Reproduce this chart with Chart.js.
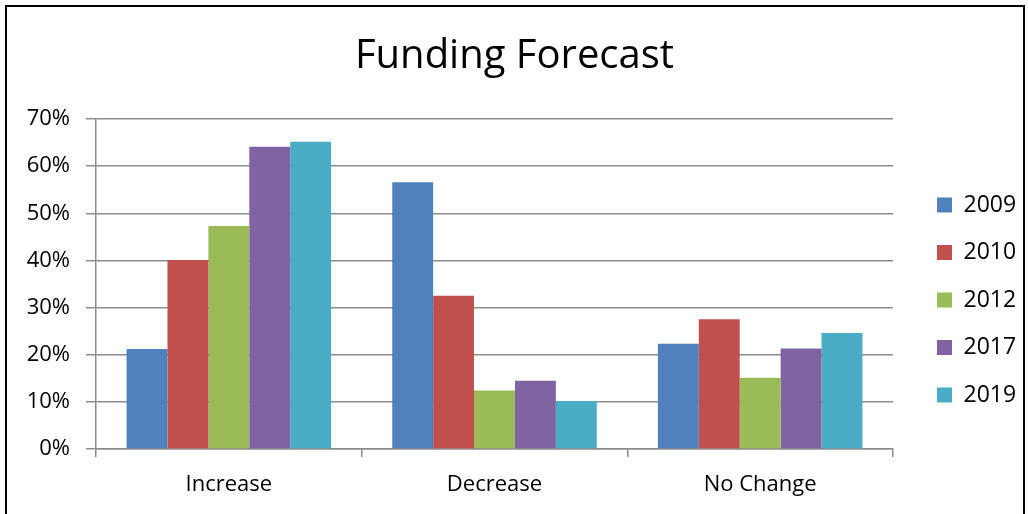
<!DOCTYPE html>
<html>
<head>
  <title>Funding Forecast</title>
  <script src="https://cdn.jsdelivr.net/npm/chart.js"></script>
  <style>
    body { margin: 0; background: #fff; }
    #frame { position: absolute; left: 5px; top: 5px; width: 1016px; height: 520px; border: 2px solid #000; }
    #chart { position: absolute; left: 0; top: 0; }
  </style>
</head>
<body>
  <div id="frame"></div>
  <canvas id="chart" width="1029" height="514"></canvas>

  <script>
    // values (percent)
    var categories = ['Increase', 'Decrease', 'No Change'];
    var years = ['2009', '2010', '2012', '2017', '2019'];
    var v2009 = [21.2, 56.6, 22.3];
    var v2010 = [40.1, 32.5, 27.5];
    var v2012 = [47.3, 12.4, 15.1];
    var v2017 = [64.1, 14.5, 21.3];
    var v2019 = [65.2, 10.2, 24.6];
    var colors = ['#4F81BD', '#C0504D', '#9BBB59', '#8064A2', '#4BACC6'];

    var series = [v2009, v2010, v2012, v2017, v2019];
    var font = "'Open Sans', 'Noto Sans', sans-serif";
    var gridColor = '#8c8c8c';
    var legendPad = 24.5;

    // fixed legend width so the plot ends where the reference does,
    // then nudge the legend items into place
    var legendPlace = {
      id: 'legendPlace',
      afterInit: function (chart) {
        var lg = chart.legend;
        var fit = lg.fit;
        lg.fit = function () {
          fit.call(this);
          this.width = 136;
        };
      },
      afterLayout: function (chart) {
        var lg = chart.legend;
        var w = lg.width, h = lg.height;
        lg.left = 937 - legendPad;
        lg.right = lg.left + w;
        lg.top = 205 - 11.5 - legendPad;
        lg.bottom = lg.top + h;
      }
    };

    var ctx = document.getElementById('chart').getContext('2d');
    var chart = new Chart(ctx, {
      type: 'bar',
      data: {
        labels: categories,
        datasets: years.map(function (y, i) {
          return {
            label: y,
            data: series[i],
            backgroundColor: colors[i],
            borderWidth: 0
          };
        })
      },
      plugins: [legendPlace],
      options: {
        responsive: false,
        animation: false,
        categoryPercentage: 0.77,
        barPercentage: 1.0,
        layout: {
          padding: { left: 0, top: 0, right: 0, bottom: 0.6 }
        },
        plugins: {
          title: {
            display: true,
            text: 'Funding Forecast',
            color: '#000',
            font: { family: font, size: 40, weight: 'normal' },
            padding: { top: 33, bottom: 38 }
          },
          legend: {
            position: 'right',
            align: 'start',
            labels: {
              color: '#000',
              boxWidth: 15,
              boxHeight: 15,
              padding: legendPad,
              font: { family: font, size: 23 }
            }
          },
          tooltip: { enabled: false }
        },
        scales: {
          x: {
            offset: true,
            grid: {
              display: true,
              offset: true,
              drawOnChartArea: false,
              drawTicks: true,
              tickLength: 8,
              lineWidth: 1.5,
              color: gridColor
            },
            border: { color: gridColor, width: 1.5 },
            ticks: {
              color: '#000',
              padding: 15,
              font: { family: font, size: 22 }
            }
          },
          y: {
            min: 0,
            max: 70,
            afterFit: function (scale) { scale.width = 96; },
            grid: {
              color: gridColor,
              lineWidth: 1.5,
              tickLength: 10
            },
            border: { color: gridColor, width: 1.5 },
            ticks: {
              stepSize: 10,
              color: '#000',
              padding: 16,
              font: { family: font, size: 22 },
              callback: function (v) { return v + '%'; }
            }
          }
        }
      }
    });
  </script>
</body>
</html>
